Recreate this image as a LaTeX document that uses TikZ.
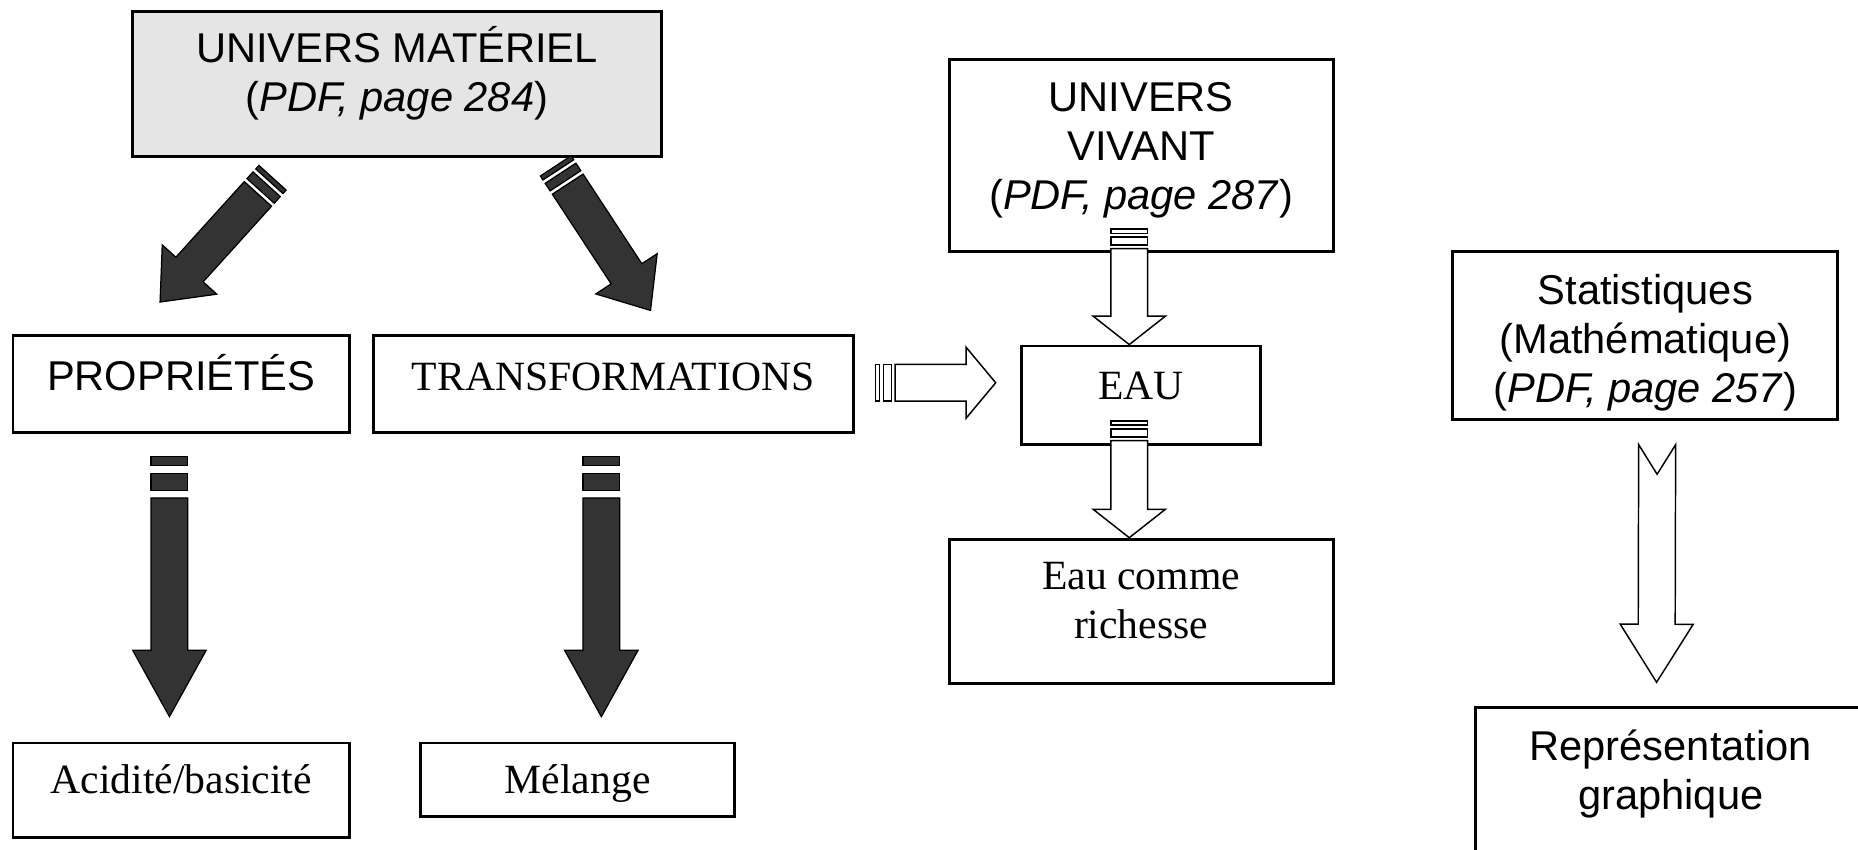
\documentclass[tikz,border=0pt]{standalone}
\usepackage{fontspec}
\setmainfont{Liberation Serif}
\setsansfont{Liberation Sans}
\usetikzlibrary{positioning,calc}

\tikzset{
  boite/.style={draw, line width=0.7pt, align=center, inner sep=2pt,
    font=\fontsize{10}{11.8}\selectfont},
  boitesf/.style={boite, font=\sffamily\fontsize{10}{11.8}\selectfont},
  sombre/.style={fill=black!80, draw=black, line width=0.3pt},
  creuse/.style={fill=white, draw=black, line width=0.35pt}
}

% struts: text sits higher / lower in its box
\newcommand{\remonte}[1]{\rule[-#1]{0pt}{#1}}
\newcommand{\descend}[1]{\rule{0pt}{#1}}

% big block arrow with two stripes at the tail
% #2 tail, #3 tip, #4 half shaft, #5 half head, #6 head length, #7 stripe
\newcommand{\stripedarrow}[7][]{%
  \pgfpointdiff{\pgfpointanchor{#2}{center}}{\pgfpointanchor{#3}{center}}%
  \pgfgetlastxy{\arrdx}{\arrdy}%
  \pgfmathsetmacro\arrang{atan2(\arrdy,\arrdx)}%
  \pgfmathsetmacro\arrlen{veclen(\arrdx,\arrdy)/0.28453}%
  \begin{scope}[shift={(#2)}, rotate=\arrang, x=0.1mm, y=0.1mm]
    \filldraw[#1] (0,-#4) rectangle (#7,#4);
    \filldraw[#1] ({1.85*#7},-#4) rectangle ({3.75*#7},#4);
    \filldraw[#1] ({4.6*#7},-#4) -- ({\arrlen-#6},-#4) -- ({\arrlen-#6},-#5)
      -- (\arrlen,0) -- ({\arrlen-#6},#5) -- ({\arrlen-#6},#4) -- ({4.6*#7},#4) -- cycle;
  \end{scope}}

% block arrow with a notch at the tail
\newcommand{\notchedarrow}[7][]{%
  \pgfpointdiff{\pgfpointanchor{#2}{center}}{\pgfpointanchor{#3}{center}}%
  \pgfgetlastxy{\arrdx}{\arrdy}%
  \pgfmathsetmacro\arrang{atan2(\arrdy,\arrdx)}%
  \pgfmathsetmacro\arrlen{veclen(\arrdx,\arrdy)/0.28453}%
  \begin{scope}[shift={(#2)}, rotate=\arrang, x=0.1mm, y=0.1mm]
    \filldraw[#1] (0,-#4) -- ({\arrlen-#6},-#4) -- ({\arrlen-#6},-#5)
      -- (\arrlen,0) -- ({\arrlen-#6},#5) -- ({\arrlen-#6},#4) -- (0,#4) -- (#7,0) -- cycle;
  \end{scope}}

\begin{document}
\begin{tikzpicture}[x=0.1mm, y=-0.1mm]
  \useasboundingbox (0,0) rectangle (1568,717);

  % boxes
  \node[boitesf, fill=black!10, minimum width=44.6mm, minimum height=12.2mm] (um) at (335,71)
    {UNIVERS MATÉRIEL\\(\textit{PDF, page 284})\remonte{7.2pt}};
  \node[boitesf, minimum width=28.4mm, minimum height=8.2mm] (prop) at (153,324) {PROPRIÉTÉS\remonte{5.4pt}};
  \node[boite, minimum width=40.5mm, minimum height=8.2mm] (trans) at (517.5,324) {TRANSFORMATIONS\remonte{3.7pt}};
  \node[boite, minimum width=28.4mm, minimum height=8mm] (acid) at (153,667) {Acidité/basicité\remonte{5.5pt}};
  \node[boite, minimum width=26.5mm, minimum height=6.2mm] (mel) at (487.5,658) {\descend{8.8pt}Mélange};
  \node[boitesf, minimum width=32.4mm, minimum height=16.2mm] (uv) at (963,131)
    {UNIVERS\\VIVANT\\(\textit{PDF, page 287})\remonte{4.6pt}};
  \node[boite, minimum width=20.2mm, minimum height=8.3mm] (eau) at (963,333.5) {EAU\remonte{4.3pt}};
  \node[boite, minimum width=32.4mm, minimum height=12.2mm] (ecr) at (963,516) {Eau comme\\richesse\remonte{5.3pt}};
  \node[boitesf, minimum width=32.5mm, minimum height=14.2mm] (stat) at (1388.5,283)
    {\descend{10.7pt}Statistiques\\(Mathématique)\\(\textit{PDF, page 257})};
  \node[boitesf, minimum width=33mm, minimum height=12.6mm] (rep) at (1410,660)
    {Représentation\\graphique\remonte{6.1pt}};

  % dark arrows
  \coordinate (pa) at (230,150);
  \coordinate (pb) at (135,255);
  \stripedarrow[sombre]{pa}{pb}{15.5}{31}{37}{4}
  \coordinate (ta) at (469,140);
  \coordinate (tb) at (549,262);
  \stripedarrow[sombre]{ta}{tb}{15.5}{31}{37}{4}
  \coordinate (pc) at ($(prop.south)+(-10,19)$);
  \coordinate (pd) at ($(acid.north)+(-10,-21)$);
  \stripedarrow[sombre]{pc}{pd}{15.5}{31}{56}{7.6}
  \coordinate (tc) at ($(trans.south)+(-10,19)$);
  \coordinate (td) at ($(mel.north)+(20,-21)$);
  \stripedarrow[sombre]{tc}{td}{15.5}{31}{56}{7.6}

  % white arrows
  \coordinate (ea) at ($(eau.west)+(-122,-10.5)$);
  \coordinate (eb) at ($(eau.west)+(-20.5,-10.5)$);
  \stripedarrow[creuse]{ea}{eb}{15.5}{30}{25}{3.6}
  \coordinate (ua) at ($(uv.south)+(-10,-20)$);
  \coordinate (ub) at ($(eau.north)+(-10,0)$);
  \stripedarrow[creuse]{ua}{ub}{15.5}{30.5}{24}{3.6}
  \coordinate (va) at ($(eau.south)+(-10,-21)$);
  \coordinate (vb) at ($(ecr.north)+(-10,0)$);
  \stripedarrow[creuse]{va}{vb}{15.5}{30.5}{24}{3.6}
  \coordinate (sa) at ($(stat.south)+(10,20)$);
  \coordinate (sb) at ($(rep.north)+(-12,-20)$);
  \notchedarrow[creuse]{sa}{sb}{15.6}{30.8}{49}{25}
\end{tikzpicture}
\end{document}
